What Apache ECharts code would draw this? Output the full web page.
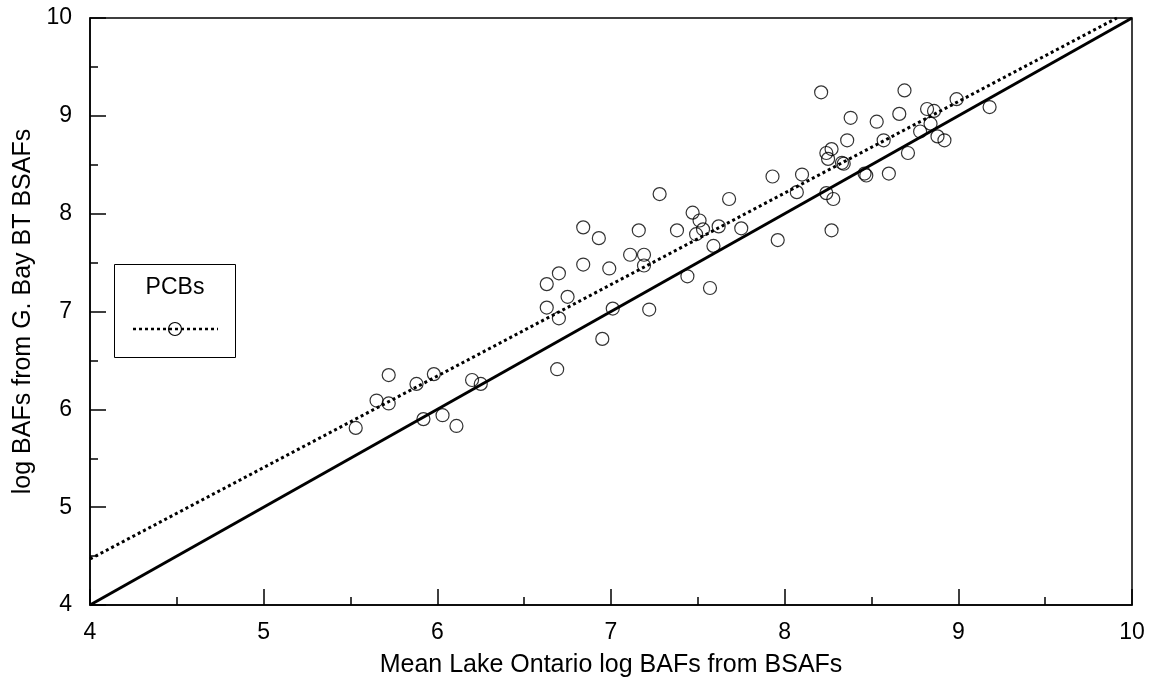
<!DOCTYPE html>
<html>
<head>
<meta charset="utf-8">
<script src="https://cdn.jsdelivr.net/npm/echarts@6/dist/echarts.min.js"></script>
<style>
html,body{margin:0;padding:0;background:#fff;}
#chart{width:1151px;height:683px;}
</style>
</head>
<body>
<div id="chart"></div>
<script>
// Data: mean Lake Ontario log BAFs (x) vs log BAFs from G. Bay BT BSAFs (y)
var pcbX = [5.53,5.65,5.72,5.72,5.88,5.92,5.98,6.03,6.11,6.20,6.25,
  6.69,6.95,7.01,6.63,6.70,6.63,6.75,6.70,6.84,6.99,6.84,6.93,7.22,7.44,7.57,
  7.11,7.19,7.19,7.16,7.28,7.38,7.47,7.51,7.53,7.49,7.59,7.62,7.68,7.75,7.96,
  7.93,8.10,8.07,8.27,8.24,8.28,8.46,8.47,8.60,
  8.21,8.69,8.38,8.53,8.66,8.82,8.86,8.99,9.18,8.36,8.57,8.84,8.78,8.88,8.92,
  8.71,8.27,8.24,8.25,8.33,8.34];
var pcbY = [5.81,6.09,6.06,6.35,6.26,5.90,6.36,5.94,5.83,6.30,6.26,
  6.41,6.72,7.03,7.28,7.39,7.04,7.15,6.93,7.48,7.44,7.86,7.75,7.02,7.36,7.24,
  7.58,7.58,7.47,7.83,8.20,7.83,8.01,7.93,7.84,7.79,7.67,7.87,8.15,7.85,7.73,
  8.38,8.40,8.22,7.83,8.21,8.15,8.41,8.39,8.41,
  9.24,9.26,8.98,8.94,9.02,9.07,9.05,9.17,9.09,8.75,8.75,8.92,8.84,8.79,8.75,
  8.62,8.66,8.62,8.56,8.52,8.51];
var oneToOneX = [4, 10];
var oneToOneY = [4, 10];
var fitX = [4, 9.913];
var fitY = [4.47, 10];
var xTicks = [4, 5, 6, 7, 8, 9, 10];
var yTicks = [4, 5, 6, 7, 8, 9, 10];
var legendLabel = 'PCBs';
var xTitle = 'Mean Lake Ontario log BAFs from BSAFs';
var yTitle = 'log BAFs from G. Bay BT BSAFs';

function pairs(xs, ys){ return xs.map(function(v,i){ return [v, ys[i]]; }); }

var FONT = '"Liberation Sans", Arial, sans-serif';
var chart = echarts.init(document.getElementById('chart'), null, {renderer:'canvas'});

var axisCommon = {
  type: 'value', interval: 1,
  axisLine: {show: true, onZero: false, lineStyle: {color: '#000', width: 1.5}},
  axisTick: {show: true, inside: true, length: 16, lineStyle: {color: '#000', width: 1.5}},
  minorTick: {show: true, splitNumber: 2, length: 8, lineStyle: {color: '#000', width: 1.5}},
  splitLine: {show: false},
  minorSplitLine: {show: false},
  nameTextStyle: {fontFamily: FONT, fontSize: 25, color: '#000'}
};

var option = {
  animation: false,
  backgroundColor: '#fff',
  grid: {left: 90, top: 18, right: 19, bottom: 78, show: true, borderColor: '#000', borderWidth: 1.5, backgroundColor: 'transparent'},
  xAxis: Object.assign({}, axisCommon, {
    min: xTicks[0], max: xTicks[xTicks.length-1],
    name: xTitle, nameLocation: 'middle', nameGap: 48,
    axisLabel: {fontFamily: FONT, fontSize: 23, color: '#000', margin: 16}
  }),
  yAxis: Object.assign({}, axisCommon, {
    min: yTicks[0], max: yTicks[yTicks.length-1],
    name: yTitle, nameLocation: 'middle', nameGap: 52,
    axisLabel: {fontFamily: FONT, fontSize: 23, color: '#000', margin: 18}
  }),
  series: [
    {
      type: 'line', data: pairs(oneToOneX, oneToOneY), symbol: 'none',
      lineStyle: {color: '#000', width: 3}, z: 3, silent: true
    },
    {
      type: 'line', data: pairs(fitX, fitY), symbol: 'none',
      lineStyle: {color: '#000', width: 3, type: [3, 3]}, z: 3, silent: true
    },
    {
      type: 'scatter', name: legendLabel, data: pairs(pcbX, pcbY),
      symbol: 'circle', symbolSize: 13,
      itemStyle: {color: 'rgba(0,0,0,0)', borderColor: '#000', borderWidth: 1.2}, z: 4
    }
  ],
  graphic: [
    {type: 'rect', left: 114, top: 264, shape: {width: 121, height: 93},
      style: {fill: '#fff', stroke: '#000', lineWidth: 1}, z: 10},
    {type: 'text', x: 175, y: 288, style: {text: legendLabel, fontFamily: FONT, fontSize: 23, fill: '#000', align: 'center', verticalAlign: 'middle'}, z: 11},
    {type: 'line', shape: {x1: 133, y1: 329, x2: 218, y2: 329}, style: {stroke: '#000', lineWidth: 2.5, lineDash: [3, 3]}, z: 11},
    {type: 'circle', shape: {cx: 175, cy: 329, r: 6.5}, style: {fill: 'rgba(0,0,0,0)', stroke: '#000', lineWidth: 1.2}, z: 12}
  ]
};
chart.setOption(option);
</script>
</body>
</html>
